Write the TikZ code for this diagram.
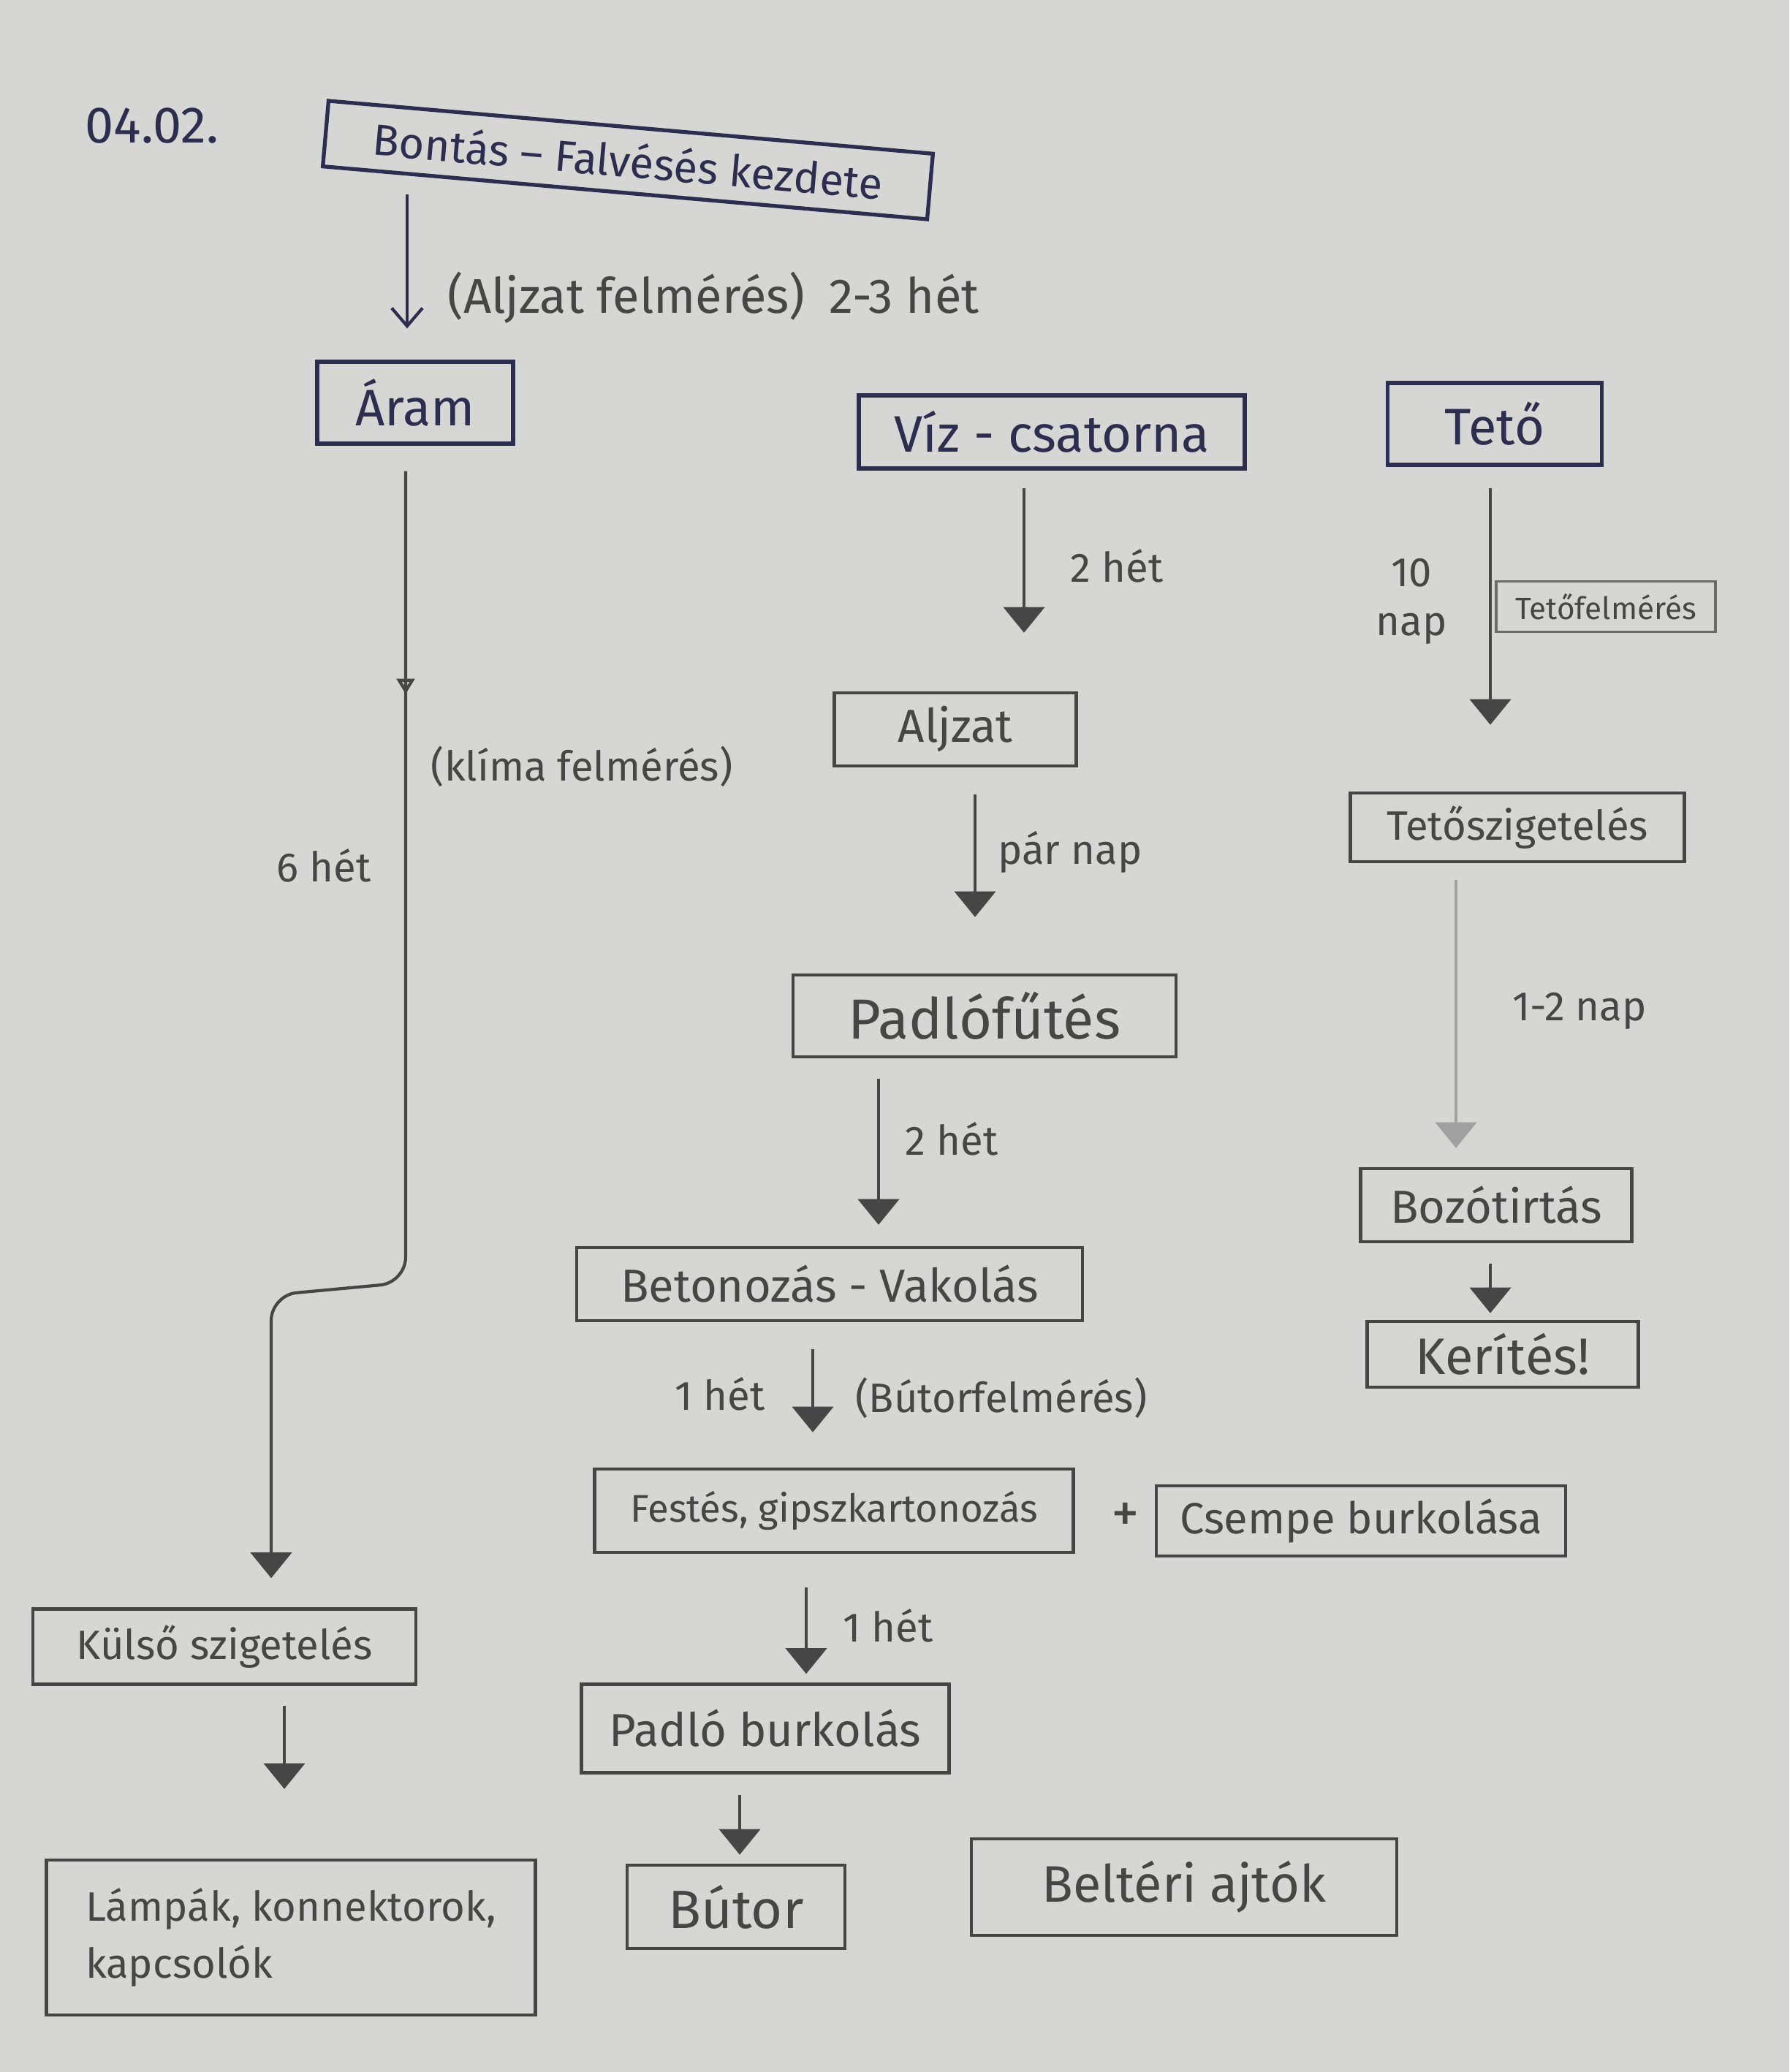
\documentclass[tikz,border=0pt]{standalone}
\usepackage{fontspec}
\setmainfont{Fira Sans}
\usetikzlibrary{positioning, arrows.meta, decorations.markings}
\definecolor{ink}{RGB}{45,45,80}
\definecolor{pencil}{RGB}{70,70,70}
\definecolor{faint}{RGB}{160,160,160}
\definecolor{paper}{RGB}{214,214,212}

\begin{document}
\begin{tikzpicture}[
    penbox/.style={draw=ink, line width=1.5pt, text=ink, minimum height=1.1cm, font=\fontsize{20}{24}\selectfont},
    pencilbox/.style={draw=pencil, line width=1.3pt, text=pencil, minimum height=1.0cm, font=\fontsize{18}{22}\selectfont},
    note/.style={text=pencil, font=\fontsize{16}{19}\selectfont},
    flow/.style={pencil, line width=1.2pt, -{Triangle[width=16pt, length=10pt]}},
    penflow/.style={ink, line width=1.2pt, -{Straight Barb[width=12pt, length=7pt]}}
]
    % Paper
    \useasboundingbox (0,0) rectangle (24.48,-28.35);
    \fill[paper] (0,0) rectangle (24.48,-28.35);

    % Date and first row (pen)
    \node[text=ink, font=\fontsize{20}{24}\selectfont] (datum) at (2.08,-1.72) {04.02.};
    \node[penbox, minimum width=8.3cm, minimum height=0.9cm, rotate=-5, font=\fontsize{17}{20}\selectfont] (bontas) at (8.59,-2.19) {Bontás – Falvésés kezdete};
    \node[penbox, minimum width=2.68cm, minimum height=1.12cm] (aram) at (5.68,-5.51) {Áram};
    \node[penbox, minimum width=5.28cm, minimum height=1.0cm] (viz) at (14.39,-5.91) {Víz - csatorna};
    \node[penbox, minimum width=2.93cm, minimum height=1.12cm] (teto) at (20.45,-5.80) {Tető};

    % Middle column
    \node[pencilbox, minimum width=3.31cm] (aljzat) at (13.07,-9.98) {Aljzat};
    \node[pencilbox, minimum width=5.24cm, minimum height=1.12cm, font=\fontsize{22}{26}\selectfont] (padlofutes) at (13.47,-13.90) {Padlófűtés};
    \node[pencilbox, minimum width=6.92cm] (beton) at (11.35,-17.57) {Betonozás - Vakolás};
    \node[pencilbox, minimum width=6.55cm, minimum height=1.14cm, font=\fontsize{15}{18}\selectfont] (festes) at (11.41,-20.67) {Festés, gipszkartonozás};
    \node[pencilbox, minimum width=5.6cm, minimum height=0.96cm, font=\fontsize{17}{20}\selectfont] (csempe) at (18.62,-20.81) {Csempe burkolása};
    \node[pencilbox, minimum width=5.03cm, minimum height=1.21cm] (padloburk) at (10.47,-23.65) {Padló burkolás};
    \node[pencilbox, minimum width=2.98cm, minimum height=1.14cm, font=\fontsize{21}{25}\selectfont] (butor) at (10.07,-26.09) {Bútor};
    \node[pencilbox, minimum width=5.82cm, minimum height=1.32cm, font=\fontsize{20}{24}\selectfont] (ajtok) at (16.20,-25.82) {Beltéri ajtók};

    % Left column
    \node[pencilbox, minimum width=5.24cm, minimum height=1.03cm, font=\fontsize{16}{19}\selectfont] (kulso) at (3.07,-22.53) {Külső szigetelés};
    \node[pencilbox, minimum width=6.69cm, minimum height=2.12cm, align=left, font=\fontsize{16}{22}\selectfont] (lampak) at (3.98,-26.51) {Lámpák, konnektorok,\\kapcsolók};

    % Right column
    \node[pencilbox, minimum width=4.57cm, minimum height=0.94cm, font=\fontsize{16}{19}\selectfont] (tetoszig) at (20.76,-11.32) {Tetőszigetelés};
    \node[pencilbox, minimum width=3.71cm] (bozot) at (20.47,-16.49) {Bozótirtás};
    \node[pencilbox, minimum width=3.71cm, minimum height=0.9cm, font=\fontsize{20}{24}\selectfont] (kerites) at (20.56,-18.53) {Kerítés!};
    \node[pencilbox, draw=pencil!80, line width=1pt, minimum width=3.0cm, minimum height=0.69cm, font=\fontsize{12}{14}\selectfont] (tetofelm) at (21.97,-8.30) {Tetőfelmérés};

    % Labels
    \node[note, font=\fontsize{19}{23}\selectfont] (l1) at (9.76,-4.07) {(Aljzat felmérés)\enspace 2-3 hét};
    \node[note] (l2) at (15.28,-7.74) {2 hét};
    \node[note] (l3) at (14.64,-11.66) {pár nap};
    \node[note] (l4) at (13.02,-15.58) {2 hét};
    \node[note] (l5) at (9.85,-19.07) {1 hét};
    \node[note] (l6) at (13.70,-19.13) {(Bútorfelmérés)};
    \node[note, font=\fontsize{22}{26}\selectfont] (plusz) at (15.40,-20.76) {+};
    \node[note] (l7) at (12.15,-22.24) {1 hét};
    \node[note] (l8) at (7.96,-10.49) {(klíma felmérés)};
    \node[note] (l9) at (4.43,-11.84) {6 hét};
    \node[note, align=center] (l10) at (19.31,-8.23) {10\\nap};
    \node[note] (l11) at (21.61,-13.83) {1-2 nap};

    % Arrow columns
    \coordinate (c1) at (5.57,0);
    \coordinate (c2) at (14.01,0);
    \coordinate (c3) at (13.34,0);
    \coordinate (c4) at (12.02,0);
    \coordinate (c5) at (11.12,0);
    \coordinate (c6) at (11.03,0);
    \coordinate (c7) at (10.12,0);
    \coordinate (c8) at (5.55,0);
    \coordinate (c9) at (3.89,0);
    \coordinate (c10) at (20.39,0);
    \coordinate (c11) at (19.92,0);
    \coordinate (jogA) at (5.55,-17.55);
    \coordinate (jogB) at (3.71,-17.72);

    % Connections
    \draw[penflow, shorten >=0.43cm] (bontas.south -| c1) -- (aram.north -| c1);
    \draw[flow, shorten <=0.24cm, shorten >=0.8cm] (viz.south -| c2) -- (aljzat.north -| c2);
    \draw[flow, shorten <=0.37cm, shorten >=0.77cm] (aljzat.south -| c3) -- (padlofutes.north -| c3);
    \draw[flow, shorten <=0.28cm, shorten >=0.29cm] (padlofutes.south -| c4) -- (beton.north -| c4);
    \draw[flow, shorten <=0.37cm, shorten >=0.48cm] (beton.south -| c5) -- (festes.north -| c5);
    \draw[flow, shorten <=0.46cm, shorten >=0.12cm] (festes.south -| c6) -- (padloburk.north -| c6);
    \draw[flow, shorten <=0.28cm, shorten >=0.12cm] (padloburk.south -| c7) -- (butor.north -| c7);
    \draw[flow, rounded corners=0.35cm, shorten <=0.35cm, shorten >=0.4cm,
        postaction={decorate}, decoration={markings, mark=at position 3.4cm with {\arrow{Triangle[open, width=7pt, length=6pt]}}}]
        (aram.south -| c8) -- (jogA) -- (jogB) -- (kulso.north -| jogB);
    \draw[flow, shorten <=0.27cm, shorten >=0.95cm] (kulso.south -| c9) -- (lampak.north -| c9);
    \draw[flow, shorten <=0.29cm, shorten >=0.91cm] (teto.south -| c10) -- (tetoszig.north -| c10);
    \draw[flow, faint, shorten <=0.23cm, shorten >=0.26cm] (tetoszig.south -| c11) -- (bozot.north -| c11);
    \draw[flow, shorten <=0.28cm, shorten >=0.09cm] (bozot.south -| c10) -- (kerites.north -| c10);
\end{tikzpicture}
\end{document}
